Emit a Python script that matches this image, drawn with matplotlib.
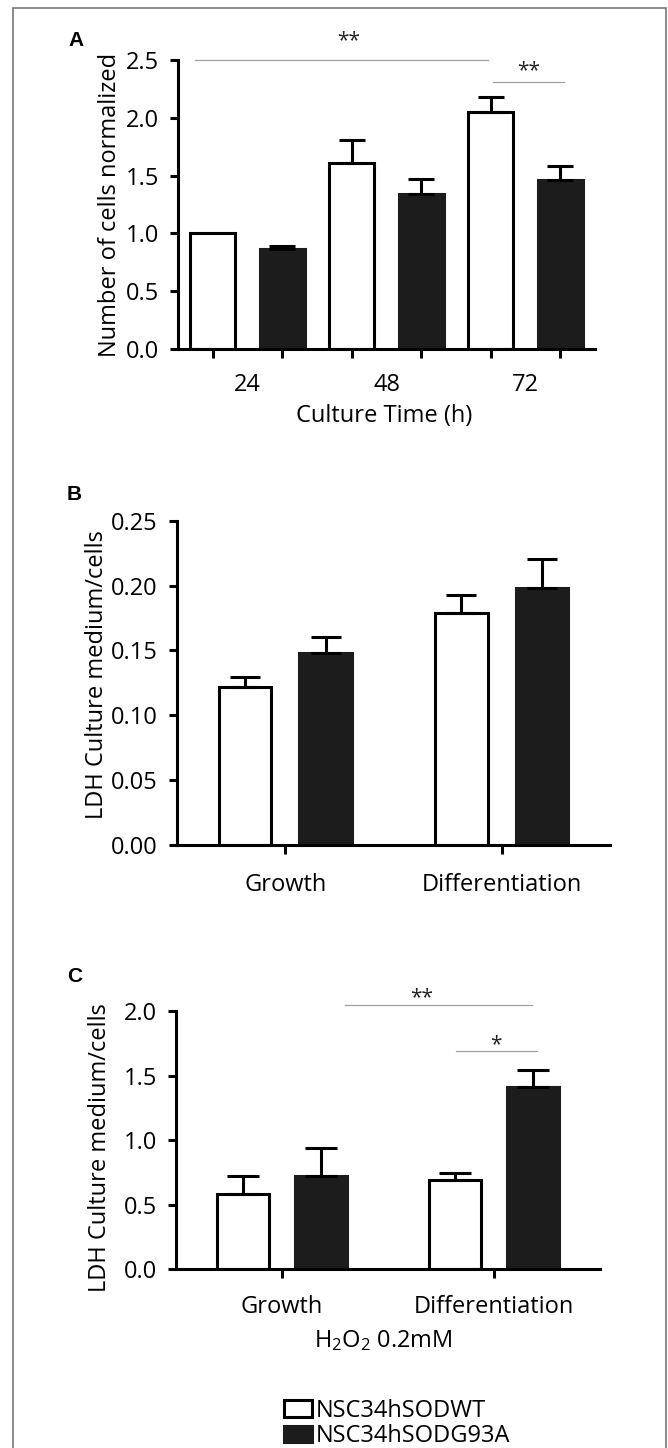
import matplotlib
matplotlib.use('Agg')
import matplotlib.pyplot as plt
from matplotlib.patches import Patch, Rectangle

plt.rcParams['font.family'] = ['Open Sans', 'DejaVu Sans']
plt.rcParams['mathtext.default'] = 'regular'
plt.rcParams['axes.linewidth'] = 2.2

# ---------------- data ----------------
legend_labels = ['NSC34hSODWT', 'NSC34hSODG93A']

a_groups = ['24', '48', '72']
a_wt = [1.0, 1.606, 2.05]
a_wt_err = [0.0, 0.202, 0.127]
a_g93a = [0.862, 1.341, 1.459]
a_g93a_err = [0.029, 0.129, 0.124]
a_yticks = [0.0, 0.5, 1.0, 1.5, 2.0, 2.5]
a_yticklabels = ['0.0', '0.5', '1.0', '1.5', '2.0', '2.5']

b_groups = ['Growth', 'Differentiation']
b_wt = [0.122, 0.1785]
b_wt_err = [0.0072, 0.0141]
b_g93a = [0.148, 0.1978]
b_g93a_err = [0.0125, 0.0228]
b_yticks = [0.0, 0.05, 0.10, 0.15, 0.20, 0.25]
b_yticklabels = ['0.00', '0.05', '0.10', '0.15', '0.20', '0.25']

c_groups = ['Growth', 'Differentiation']
c_wt = [0.586, 0.6925]
c_wt_err = [0.135, 0.057]
c_g93a = [0.724, 1.413]
c_g93a_err = [0.213, 0.132]
c_yticks = [0.0, 0.5, 1.0, 1.5, 2.0]
c_yticklabels = ['0.0', '0.5', '1.0', '1.5', '2.0']

# ---------------- figure ----------------
W, H = 668, 1448
fig = plt.figure(figsize=(W / 100, H / 100), dpi=100)
BLACK = '#1c1c1c'
SIG = '#a0a0a0'
FS = 17
LW = 2.2


def px_axes(l, r, t, b):
    return fig.add_axes([l / W, 1 - b / H, (r - l) / W, (b - t) / H])


def style(ax, yticks, yticklabels, ylim):
    ax.spines['top'].set_visible(False)
    ax.spines['right'].set_visible(False)
    ax.set_ylim(*ylim)
    ax.set_yticks(yticks)
    ax.set_yticklabels(yticklabels)
    ax.tick_params(axis='y', length=5.8, width=LW, pad=8, labelsize=FS)
    ax.tick_params(axis='x', which='major', length=6.5, width=LW, labelsize=FS)


def bars(ax, x, vals, errs, white, width, capsize):
    if white:
        ax.bar(x, vals, width=width, facecolor='white', edgecolor='black',
               linewidth=LW, zorder=2)
    else:
        ax.bar(x, vals, width=width, facecolor=BLACK, edgecolor=BLACK,
               linewidth=LW, zorder=2)
    xs = [xi for xi, e in zip(x, errs) if e > 0]
    ys = [v for v, e in zip(vals, errs) if e > 0]
    es = [e for e in errs if e > 0]
    if xs:
        ax.errorbar(xs, ys, yerr=[[0] * len(es), es], fmt='none', ecolor='black',
                    elinewidth=LW, capsize=capsize, capthick=LW, zorder=3)


def sig(ax, x0, x1, y, text, tx, ty):
    ax.plot([x0, x1], [y, y], color=SIG, lw=0.9, clip_on=False, zorder=1)
    ax.text(tx, ty, text, ha='center', va='baseline', fontsize=15,
            color='#222222', clip_on=False)


# ---------------- panel A ----------------
axA = px_axes(178, 595, 60, 349)
xw = [2 * i for i in range(len(a_groups))]
xb = [2 * i + 1 for i in range(len(a_groups))]
bars(axA, xw, a_wt, a_wt_err, True, 0.65, 9.7)
bars(axA, xb, a_g93a, a_g93a_err, False, 0.65, 9.7)
style(axA, a_yticks, a_yticklabels, (0, 2.5))
axA.set_xlim(-0.5, 5.5)
axA.set_xticks(list(range(2 * len(a_groups))))
axA.set_xticklabels([])
axA.set_xticks([2 * i + 0.5 for i in range(len(a_groups))], minor=True)
axA.set_xticklabels(a_groups, minor=True)
axA.tick_params(axis='x', which='minor', length=0, pad=17.3, labelsize=FS)
axA.set_ylabel('Number of cells normalized', fontsize=FS)
axA.yaxis.label.set_va('center')
axA.yaxis.set_label_coords(-0.163, 0.5)
axA.set_xlabel('Culture Time (h)', fontsize=FS)
axA.xaxis.label.set_va('baseline')
axA.xaxis.set_label_coords(0.494, -0.2515)
sig(axA, -0.26, 3.96, 2.5, '**', 1.95, 2.62)
sig(axA, 4.03, 5.06, 2.312, '**', 4.54, 2.358)

# ---------------- panel B ----------------
axB = px_axes(177, 610, 520.7, 845)
gx = list(range(len(b_groups)))
bars(axB, [g - 0.186 for g in gx], b_wt, b_wt_err, True, 0.242, 11)
bars(axB, [g + 0.186 for g in gx], b_g93a, b_g93a_err, False, 0.242, 11)
style(axB, b_yticks, b_yticklabels, (0, 0.25))
axB.set_xlim(-0.5, 1.5)
axB.set_xticks(gx)
axB.set_xticklabels(b_groups)
axB.tick_params(axis='x', pad=13.7)
axB.set_ylabel('LDH Culture medium/cells', fontsize=FS)
axB.yaxis.label.set_va('center')
axB.yaxis.set_label_coords(-0.185, 0.526)

# ---------------- panel C ----------------
axC = px_axes(176, 600, 1011, 1269.3)
gx = list(range(len(c_groups)))
bars(axC, [g - 0.186 for g in gx], c_wt, c_wt_err, True, 0.245, 11.5)
bars(axC, [g + 0.186 for g in gx], c_g93a, c_g93a_err, False, 0.245, 11.5)
style(axC, c_yticks, c_yticklabels, (0, 2.0))
axC.set_xlim(-0.5, 1.5)
axC.set_xticks(gx)
axC.set_xticklabels(c_groups)
axC.tick_params(axis='x', pad=12)
axC.set_ylabel('LDH Culture medium/cells', fontsize=FS)
axC.yaxis.label.set_va('center')
axC.yaxis.set_label_coords(-0.179, 0.47)
axC.set_xlabel('H$_2$O$_2$ 0.2mM', fontsize=FS)
axC.xaxis.label.set_va('baseline')
axC.xaxis.set_label_coords(0.49, -0.301)
sig(axC, 0.297, 1.181, 2.049, '**', 0.657, 2.06)
sig(axC, 0.823, 1.205, 1.692, '*', 1.01, 1.70)

# ---------------- panel letters ----------------
for lab, x, y in [('A', 76, 40), ('B', 74, 495), ('C', 75, 976)]:
    fig.text(x / W, 1 - y / H, lab, ha='center', va='center', fontsize=15,
             fontweight='bold', family=['Liberation Sans', 'DejaVu Sans'])

# ---------------- legend ----------------
handles = [Patch(facecolor='white', edgecolor='black', linewidth=LW),
           Patch(facecolor=BLACK, edgecolor=BLACK, linewidth=LW)]
fig.legend(handles=handles, labels=legend_labels, loc='upper left',
           bbox_to_anchor=(284 / W, 1 - 1399 / H), frameon=False, fontsize=FS,
           handlelength=1.2, handleheight=0.7, handletextpad=0.15,
           labelspacing=0.05, borderpad=0, borderaxespad=0)

# ---------------- outer frame ----------------
fig.add_artist(Rectangle((13 / W, -0.01), (666 - 13) / W, (1 - 8 / H) + 0.01,
                         transform=fig.transFigure, fill=False,
                         edgecolor='#777777', linewidth=1.2))

fig.savefig('out.png', dpi=100)
